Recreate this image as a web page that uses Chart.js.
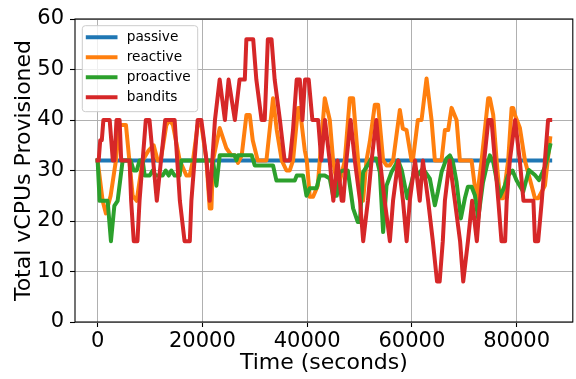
<!DOCTYPE html>
<html>
<head>
<meta charset="utf-8">
<script src="https://cdn.jsdelivr.net/npm/chart.js@4.4.1/dist/chart.umd.min.js"></script>
<style>
  html, body { margin: 0; padding: 0; background: #fff; }
  #wrap { width: 576px; height: 379px; }
</style>
</head>
<body>
<div id="wrap"><canvas id="c" width="576" height="379"></canvas></div>
<script>
// ---- data (time in seconds, vCPUs) ----
const seriesNames = ["passive", "reactive", "proactive", "bandits"];
const seriesColors = ["#1f77b4", "#ff7f0e", "#2ca02c", "#d62728"];

const passiveT = [0, 86400];
const passiveV = [32, 32];

const reactiveT = [0, 955, 1586, 2484, 3496, 4146, 5407, 6056, 6687, 7451, 8597, 9744, 10699, 11463, 12036, 13125, 13756, 14386, 15666, 16946, 17577, 18207, 19105, 19812, 20767, 21398, 21723, 22029, 23308, 24588, 25543, 26174, 26804, 27511, 28409, 29040, 29613, 30568, 32231, 33491, 34198, 35153, 36051, 36682, 37312, 38267, 38592, 39547, 39929, 40503, 41133, 42031, 42413, 43368, 44324, 44955, 45604, 46234, 47190, 48145, 48775, 49731, 50380, 50686, 51335, 51966, 52921, 53552, 54507, 55156, 55787, 56417, 57697, 58270, 58977, 59932, 60181, 61136, 61843, 62798, 63753, 64384, 65664, 66294, 66925, 67575, 68530, 69160, 71395, 72350, 73306, 74567, 74892, 75522, 76172, 76802, 77432, 78387, 79037, 79342, 79667, 80622, 81578, 83488, 84118, 85398, 86400];
const reactiveV = [32, 24, 21.5, 25, 32, 39, 39, 32, 25, 24, 32, 34, 35, 32, 32, 39, 40, 39, 32, 29, 29, 32, 39, 39, 32, 22.5, 22.5, 32, 38.4, 34.4, 33, 33, 31.5, 33, 41, 41, 36, 32, 32, 44.3, 38, 32, 30, 30, 32, 42.4, 42.4, 34, 32, 24.8, 24.8, 27, 32, 44.3, 40, 32, 27.8, 27.8, 32, 44.3, 44.3, 32, 24, 24, 32, 35.7, 43, 43, 32, 31, 31, 32, 42, 38.3, 38, 32, 32, 40, 40, 48.2, 40, 32, 32, 38, 38, 42.4, 40, 32, 32, 24, 32, 44.3, 44.3, 41, 32, 24.5, 24.5, 32, 42.4, 42.4, 41, 38.4, 32, 24.5, 24.5, 27, 36.4];

const proactiveT = [0, 382, 1911, 2541, 3191, 3821, 4776, 5407, 6305, 6878, 7451, 8024, 8597, 8979, 9935, 10508, 11081, 12418, 12991, 13565, 14080, 14711, 15666, 15991, 22029, 22678, 23308, 26174, 26499, 26804, 29422, 29995, 30950, 33491, 34141, 37637, 38019, 39223, 39872, 40503, 41783, 42413, 43368, 44324, 44955, 45661, 46234, 46864, 47762, 48775, 49673, 50055, 50686, 51335, 52290, 53245, 53876, 54507, 55156, 56111, 57372, 58079, 59130, 59932, 60563, 61136, 62091, 63429, 64384, 64957, 65664, 66619, 67250, 67823, 68530, 69351, 70115, 70689, 71395, 72025, 72656, 73554, 74318, 74892, 75522, 76802, 77757, 78330, 79209, 79992, 81252, 82341, 83488, 84253, 85398, 85971, 86400];
const proactiveV = [32, 24, 24, 16, 23, 24, 32, 32, 32, 30, 30, 32, 32, 29, 29, 30, 29, 29, 30, 29, 30, 29, 29, 32, 32, 27, 33, 33, 32, 33, 33, 31, 31, 31, 28, 28, 29, 29, 25, 26.5, 26.5, 29, 29, 28.4, 25, 25, 29.7, 30, 30, 22.5, 19.8, 19.8, 29.7, 30.7, 32.4, 32.4, 29.7, 17.8, 27, 29.7, 32, 30, 24.5, 27.7, 30.4, 29.1, 30.4, 28.4, 23.1, 25.8, 29.7, 32.4, 33, 31.7, 27.7, 20.5, 24.5, 26.8, 26.8, 25.1, 20.5, 27.5, 31, 33, 31.7, 24.8, 27, 29, 30, 28, 25.8, 30.1, 29.1, 28.1, 30.7, 33, 35];

const banditsT = [0, 200, 500, 800, 1100, 2300, 2900, 3200, 3600, 4200, 4500, 6100, 6400, 6900, 7600, 8000, 9200, 9900, 11300, 12900, 14700, 15700, 16600, 17600, 17900, 19100, 19800, 20800, 21400, 22400, 23300, 24300, 25000, 26200, 27100, 28100, 28400, 29700, 30300, 31300, 31900, 32500, 33200, 33800, 34800, 35700, 36700, 37300, 38000, 38600, 39100, 39600, 40300, 41000, 42100, 42700, 43400, 44300, 45000, 45800, 46600, 46900, 47500, 48300, 49100, 50100, 50700, 51600, 52300, 53200, 53900, 54800, 55800, 56400, 57400, 58300, 59000, 59600, 60600, 61500, 62100, 63100, 64000, 64800, 65300, 65900, 66300, 67200, 68200, 69200, 69800, 70700, 71500, 72400, 73000, 74600, 75200, 76500, 77100, 77800, 78100, 78700, 79700, 80600, 81300, 83200, 83500, 84100, 84800, 85400, 86000, 86400];
const banditsV = [32, 32, 36, 36, 40, 40, 32, 32, 40, 40, 32, 32, 24, 16, 16, 24, 40, 40, 24, 40, 40, 24, 16, 16, 24, 40, 40, 32, 24, 40, 48, 40, 48, 40, 48, 48, 56, 56, 48, 40, 40, 56, 56, 48, 40, 32, 32, 38, 48, 48, 40, 48, 48, 40, 40, 32, 40, 32, 24, 32, 24, 24, 32, 40, 32, 24, 16, 24, 32, 40, 32, 24, 16, 24, 32, 24, 16, 24, 32, 24, 32, 24, 16, 8, 8, 16, 24, 32, 24, 16, 8, 16, 24, 16, 24, 40, 40, 24, 16, 16, 24, 32, 40, 32, 24, 24, 16, 16, 24, 32, 40, 40];

const xTicks = [0, 20000, 40000, 60000, 80000];
const yTicks = [0, 10, 20, 30, 40, 50, 60];
const xMin = -4320, xMax = 90720;

const allT = [passiveT, reactiveT, proactiveT, banditsT];
const allV = [passiveV, reactiveV, proactiveV, banditsV];

function pts(ts, vs) { return ts.map((t, i) => ({x: t, y: vs[i]})); }

const FONT = "'DejaVu Sans', 'Liberation Sans', sans-serif";

const datasets = seriesNames.map((name, k) => ({
  label: name,
  data: pts(allT[k], allV[k]),
  borderColor: seriesColors[k],
  backgroundColor: seriesColors[k],
  borderWidth: 4,
  pointRadius: 0,
  tension: 0,
  fill: false,
  borderJoinStyle: 'round',
  borderCapStyle: 'square',
  order: seriesNames.length - k
}));

const framePlugin = {
  id: 'frame',
  afterDatasetsDraw(chart) {
    const {ctx, chartArea: a} = chart;
    ctx.save();
    ctx.strokeStyle = '#000';
    ctx.lineWidth = 1.1;
    ctx.strokeRect(a.left, a.top, a.right - a.left, a.bottom - a.top);
    ctx.restore();
  }
};

const legendPlugin = {
  id: 'mplLegend',
  afterDraw(chart) {
    const {ctx, chartArea: a} = chart;
    const bx = a.left + 7.3, by = a.top + 6.7, bw = 115.4, bh = 86, r = 3;
    ctx.save();
    ctx.beginPath();
    ctx.moveTo(bx + r, by);
    ctx.lineTo(bx + bw - r, by);
    ctx.arcTo(bx + bw, by, bx + bw, by + r, r);
    ctx.lineTo(bx + bw, by + bh - r);
    ctx.arcTo(bx + bw, by + bh, bx + bw - r, by + bh, r);
    ctx.lineTo(bx + r, by + bh);
    ctx.arcTo(bx, by + bh, bx, by + bh - r, r);
    ctx.lineTo(bx, by + r);
    ctx.arcTo(bx, by, bx + r, by, r);
    ctx.closePath();
    ctx.fillStyle = 'rgba(255,255,255,0.8)';
    ctx.fill();
    ctx.strokeStyle = '#cccccc';
    ctx.lineWidth = 1;
    ctx.stroke();
    ctx.font = "13.7px " + FONT;
    ctx.textBaseline = 'middle';
    ctx.textAlign = 'left';
    chart.data.datasets.forEach((ds, i) => {
      const y = by + 11.6 + i * 20;
      ctx.strokeStyle = ds.borderColor;
      ctx.lineWidth = 4;
      ctx.lineCap = 'butt';
      ctx.beginPath();
      ctx.moveTo(bx + 3.5, y);
      ctx.lineTo(bx + 35.2, y);
      ctx.stroke();
      ctx.fillStyle = '#000';
      ctx.fillText(ds.label, bx + 44.4, y + 0.5);
    });
    ctx.restore();
  }
};

new Chart(document.getElementById('c'), {
  type: 'line',
  data: { datasets },
  options: {
    responsive: false,
    animation: false,
    devicePixelRatio: 1,
    layout: { padding: { top: 19, right: 3.2, left: 0, bottom: 0 } },
    plugins: { legend: { display: false }, tooltip: { enabled: false } },
    scales: {
      x: {
        type: 'linear',
        min: xMin, max: xMax,
        afterBuildTicks(scale) { scale.ticks = xTicks.map(v => ({value: v})); },
        afterFit(scale) { scale.height = 57; },
        grid: { color: '#b0b0b0', lineWidth: 1, tickColor: '#000', tickLength: 5, tickWidth: 1.1, drawTicks: true },
        border: { display: false },
        ticks: { font: { family: FONT, size: 21 }, color: '#000', padding: 1.5, maxRotation: 0, autoSkip: false,
                 callback: (v) => String(v) },
        title: { display: true, text: 'Time (seconds)', font: { family: FONT, size: 22 }, color: '#000', padding: { top: 0, bottom: 2.4 } }
      },
      y: {
        type: 'linear',
        min: 0, max: 60,
        afterBuildTicks(scale) { scale.ticks = yTicks.map(v => ({value: v})); },
        afterFit(scale) { scale.width = 75; },
        grid: { color: '#b0b0b0', lineWidth: 1, tickColor: '#000', tickLength: 5, tickWidth: 1.1, drawTicks: true },
        border: { display: false },
        ticks: { font: { family: FONT, size: 21 }, color: '#000', padding: 6, autoSkip: false,
                 callback: (v) => String(v) },
        title: { display: true, text: 'Total vCPUs Provisioned', font: { family: FONT, size: 22 }, color: '#000', padding: { top: 10.8, bottom: 0 } }
      }
    }
  },
  plugins: [framePlugin, legendPlugin]
});
</script>
</body>
</html>
